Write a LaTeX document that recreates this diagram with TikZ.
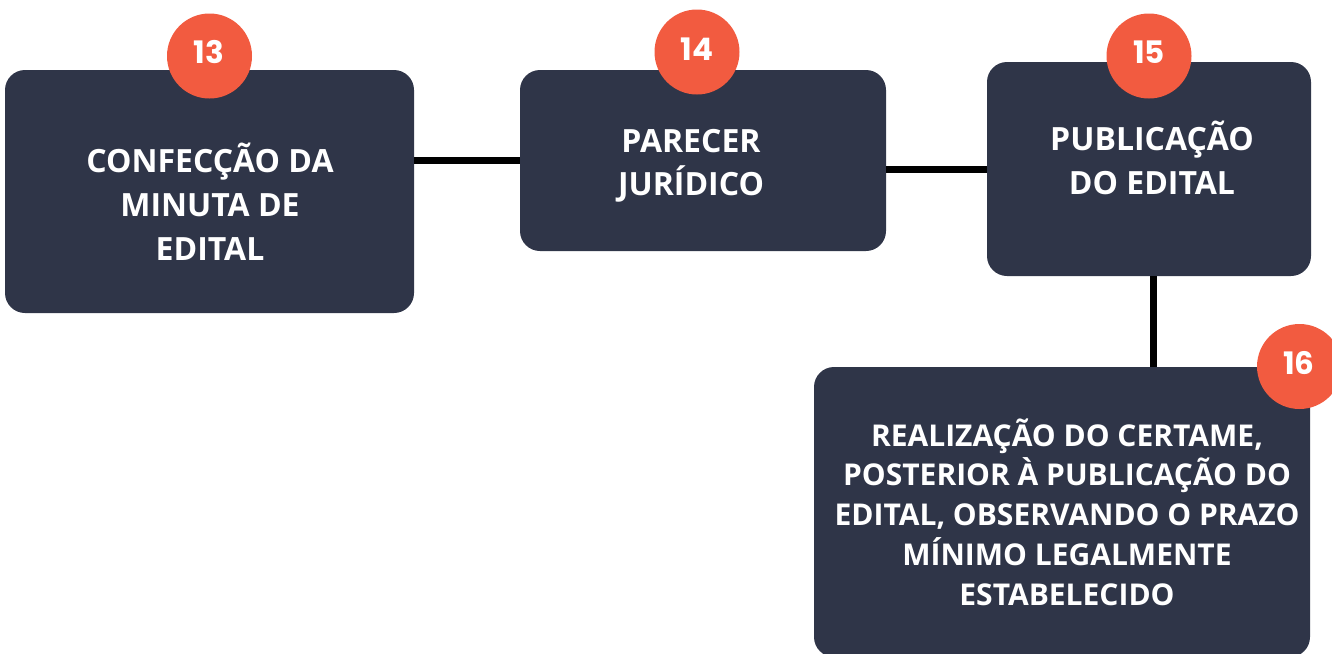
\documentclass[tikz,border=0pt]{standalone}
\usepackage{fontspec}
\setmainfont{Open Sans}
\newfontfamily\numfont{Poppins}
\definecolor{boxfill}{HTML}{2F3548}
\definecolor{badge}{HTML}{F25B40}
\tikzset{
  box/.style={fill=boxfill, rounded corners=20pt, inner sep=0pt},
  badgecirc/.style={circle, fill=badge, minimum size=85pt, inner sep=0pt},
  numtxt/.style={anchor=base, inner sep=0pt, text=white, font=\numfont\bfseries\fontsize{31}{31}\selectfont},
  ltxt/.style={anchor=base, inner sep=0pt, text=white, font=\bfseries\fontsize{32}{32}\selectfont},
  stxt/.style={anchor=base, inner sep=0pt, text=white, font=\bfseries\fontsize{30}{30}\selectfont},
  conn/.style={line width=7pt, black}
}
\begin{document}
\begin{tikzpicture}[x=1pt, y=-1pt]
\useasboundingbox (0,0) rectangle (1332,653);
% boxes
\node[box, minimum width=409pt, minimum height=243pt] (b1) at (209.5,191.5) {};
\node[box, minimum width=366pt, minimum height=181pt] (b2) at (703,160.5) {};
\node[box, minimum width=324pt, minimum height=214pt] (b3) at (1149,169) {};
\node[box, minimum width=496pt, minimum height=290pt] (b4) at (1062,512) {};
% connectors
\draw[conn] (b1.east |- 0,160) -- (b2.west |- 0,160);
\draw[conn] (b2.east |- 0,169) -- (b3.west |- 0,169);
\draw[conn] (b3.south -| 1153,0) -- (b4.north -| 1153,0);
% badges
\node[badgecirc] (c13) at (209.5,56) {};
\node[badgecirc] (c14) at (697,52) {};
\node[badgecirc] (c15) at (1149,56) {};
\node[badgecirc] (c16) at (1299.5,366.5) {};
\node[numtxt] (n13) at (209,63) {13};
\node[numtxt] (n14) at (697,60) {14};
\node[numtxt] (n15) at (1149,63) {15};
\node[numtxt] (n16) at (1299,374) {16};
% box 1 text
\node[ltxt] (t1a) at (210,172) {CONFECÇÃO DA};
\node[ltxt] (t1b) at (210,216) {MINUTA DE};
\node[ltxt] (t1c) at (210,260) {EDITAL};
% box 2 text
\node[ltxt] (t2a) at (691,152) {PARECER};
\node[ltxt] (t2b) at (691,195) {JURÍDICO};
% box 3 text
\node[ltxt] (t3a) at (1152,150) {PUBLICAÇÃO};
\node[ltxt] (t3b) at (1152,194) {DO EDITAL};
% box 4 text
\node[stxt] (t4a) at (1067,446) {REALIZAÇÃO DO CERTAME,};
\node[stxt] (t4b) at (1067,485) {POSTERIOR À PUBLICAÇÃO DO};
\node[stxt] (t4c) at (1067,525) {EDITAL, OBSERVANDO O PRAZO};
\node[stxt] (t4d) at (1067,565) {MÍNIMO LEGALMENTE};
\node[stxt] (t4e) at (1067,605) {ESTABELECIDO};
\end{tikzpicture}
\end{document}
